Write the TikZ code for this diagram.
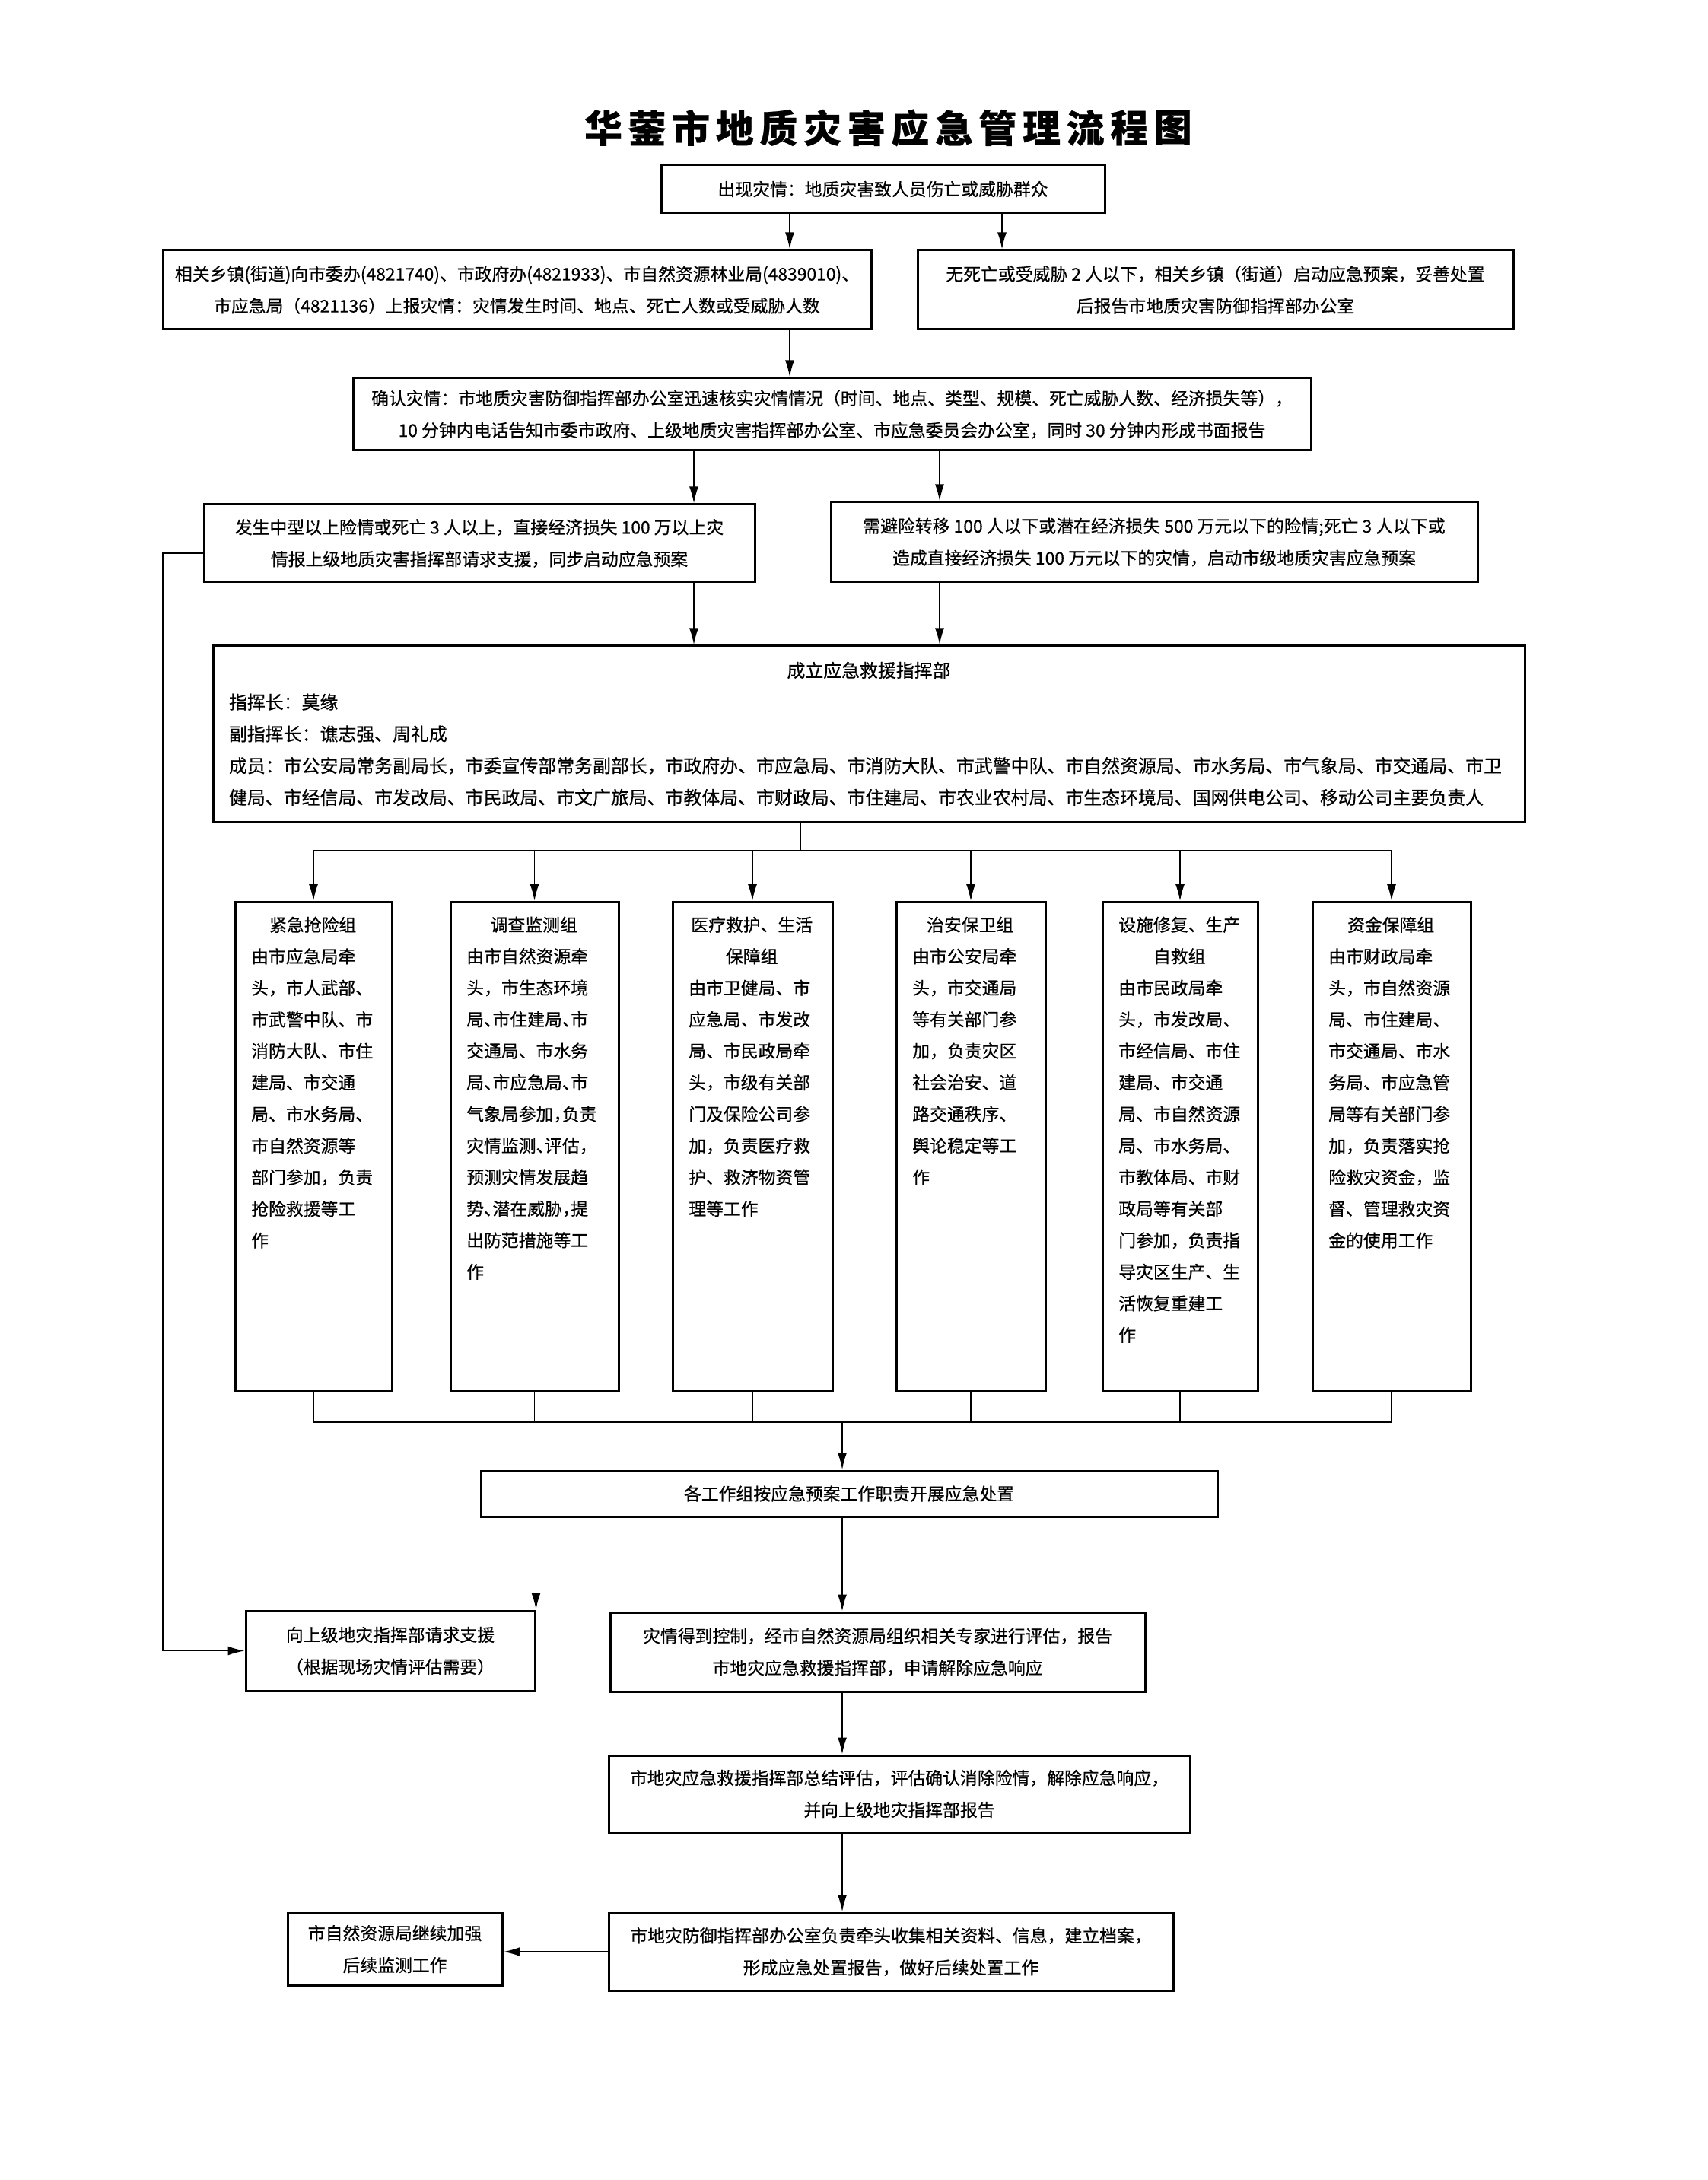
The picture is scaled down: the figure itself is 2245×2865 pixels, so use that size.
\documentclass[tikz,border=0pt]{standalone}
\usepackage{fontspec}
\setmainfont{Noto Sans CJK SC}[FakeBold=0.5]
\usepackage{tikz}
\usetikzlibrary{arrows.meta, calc}
\tikzstyle{box}=[draw, line width=0.3mm, inner sep=0, align=center, font=\fontsize{6.5}{11.95}\selectfont]
\tikzstyle{grp}=[draw, line width=0.3mm, inner sep=0, minimum height=64.3mm]
\tikzstyle{grptext}=[anchor=north west, inner xsep=2.2mm, inner ysep=2mm, align=left, font=\fontsize{6.5}{11.8}\selectfont]
\tikzstyle{titlechar}=[inner sep=0, font=\fontsize{14.2}{15}\selectfont\bfseries]
\tikzstyle{arr}=[line width=0.18mm, -{Latex[length=2.2mm,width=1.2mm]}]
\tikzstyle{conn}=[line width=0.18mm]
\newcommand{\hp}[1]{\makebox[0.5em][l]{#1}}
\newcommand{\ctr}[1]{\makebox[\linewidth]{#1}}
\newcommand{\grpbox}[5]{\node[grp, minimum width=#3mm, anchor=north] (#1) at (#2,1184) {};
\node[grptext, text width=#4mm] (#1t) at (#1.north west) {#5};}

\begin{document}
\begin{tikzpicture}[x=0.1mm, y=-0.1mm]
\useasboundingbox (0,0) rectangle (2245,2865);
\foreach \c [count=\i] in {华,蓥,市,地,质,灾,害,应,急,管,理,流,程,图}
  \node[titlechar] (t\i) at (735.4+57.6*\i,168) {\c};

\node[box, minimum width=58.3mm, minimum height=6.3mm] (top) at (1160.5,248.5) {出现灾情：地质灾害致人员伤亡或威胁群众};
\node[box, minimum width=93.1mm, minimum height=10.4mm] (repL) at (679.5,381) {相关乡镇(街道)向市委办(4821740)、市政府办(4821933)、市自然资源林业局(4839010)、\\市应急局（4821136）上报灾情：灾情发生时间、地点、死亡人数或受威胁人数};
\node[box, minimum width=78.3mm, minimum height=10.4mm] (repR) at (1597.5,381) {无死亡或受威胁 2 人以下，相关乡镇（街道）启动应急预案，妥善处置\\后报告市地质灾害防御指挥部办公室};
\node[box, minimum width=125.9mm, minimum height=9.5mm] (conf) at (1093.5,544.5) {确认灾情：市地质灾害防御指挥部办公室迅速核实灾情情况（时间、地点、类型、规模、死亡威胁人数、经济损失等），\\10 分钟内电话告知市委市政府、上级地质灾害指挥部办公室、市应急委员会办公室，同时 30 分钟内形成书面报告};
\node[box, minimum width=72.4mm, minimum height=10.2mm] (bigL) at (630,714) {发生中型以上险情或死亡 3 人以上，直接经济损失 100 万以上灾\\情报上级地质灾害指挥部请求支援，同步启动应急预案};
\node[box, minimum width=85mm, minimum height=10.5mm] (bigR) at (1517,712.5) {需避险转移 100 人以下或潜在经济损失 500 万元以下的险情;死亡 3 人以下或\\造成直接经济损失 100 万元以下的灾情，启动市级地质灾害应急预案};
\node[box, minimum width=172.4mm, minimum height=23.1mm, text width=168.2mm, align=left, font=\fontsize{6.8}{11.88}\selectfont] (hq) at (1142,964.5) {\ctr{成立应急救援指挥部}\\指挥长：莫缘\\副指挥长：谯志强、周礼成\\成员：市公安局常务副局长，市委宣传部常务副部长，市政府办、市应急局、市消防大队、市武警中队、市自然资源局、市水务局、市气象局、市交通局、市卫\\健局、市经信局、市发改局、市民政局、市文广旅局、市教体局、市财政局、市住建局、市农业农村局、市生态环境局、国网供电公司、移动公司主要负责人};

\grpbox{g1}{412}{20.6}{16.2}{\ctr{紧急抢险组}\\由市应急局牵\\头，市人武部、\\市武警中队、市\\消防大队、市住\\建局、市交通\\局、市水务局、\\市自然资源等\\部门参加，负责\\抢险救援等工\\作}
\grpbox{g2}{702.5}{22.1}{17.7}{\ctr{调查监测组}\\由市自然资源牵\\头，市生态环境\\局\hp{、}市住建局\hp{、}市\\交通局、市水务\\局\hp{、}市应急局\hp{、}市\\气象局参加\hp{，}负责\\灾情监测\hp{、}评估\hp{，}\\预测灾情发展趋\\势\hp{、}潜在威胁\hp{，}提\\出防范措施等工\\作}
\grpbox{g3}{989}{21.0}{16.6}{\ctr{医疗救护、生活}\\\ctr{保障组}\\由市卫健局、市\\应急局、市发改\\局、市民政局牵\\头，市级有关部\\门及保险公司参\\加，负责医疗救\\护、救济物资管\\理等工作}
\grpbox{g4}{1276}{19.6}{15.2}{\ctr{治安保卫组}\\由市公安局牵\\头，市交通局\\等有关部门参\\加，负责灾区\\社会治安、道\\路交通秩序、\\舆论稳定等工\\作}
\grpbox{g5}{1551}{20.4}{16.0}{\ctr{设施修复、生产}\\\ctr{自救组}\\由市民政局牵\\头，市发改局、\\市经信局、市住\\建局、市交通\\局、市自然资源\\局、市水务局、\\市教体局、市财\\政局等有关部\\门参加，负责指\\导灾区生产、生\\活恢复重建工\\作}
\grpbox{g6}{1829}{20.8}{16.4}{\ctr{资金保障组}\\由市财政局牵\\头，市自然资源\\局、市住建局、\\市交通局、市水\\务局、市应急管\\局等有关部门参\\加，负责落实抢\\险救灾资金，监\\督、管理救灾资\\金的使用工作}

\node[box, minimum width=96.8mm, minimum height=6mm] (act) at (1116,1963) {各工作组按应急预案工作职责开展应急处置};
\node[box, minimum width=38mm, minimum height=10.5mm] (ask) at (513,2169.5) {向上级地灾指挥部请求支援\\（根据现场灾情评估需要）};
\node[box, minimum width=70.3mm, minimum height=10.4mm] (ctrl) at (1153.5,2171) {灾情得到控制，经市自然资源局组织相关专家进行评估，报告\\市地灾应急救援指挥部，申请解除应急响应};
\node[box, minimum width=76.4mm, minimum height=10.1mm] (sum) at (1182,2357.5) {市地灾应急救援指挥部总结评估，评估确认消除险情，解除应急响应，\\并向上级地灾指挥部报告};
\node[box, minimum width=74.2mm, minimum height=10.2mm] (arch) at (1171,2565) {市地灾防御指挥部办公室负责牵头收集相关资料、信息，建立档案，\\形成应急处置报告，做好后续处置工作};
\node[box, minimum width=28.2mm, minimum height=9.5mm] (mon) at (519,2561.5) {市自然资源局继续加强\\后续监测工作};

\coordinate (c1) at (1038,0);
\coordinate (c2) at (1317,0);
\coordinate (c3) at (912,0);
\coordinate (c4) at (1235,0);
\coordinate (c5) at (1052,0);
\coordinate (c6) at (1107,0);
\coordinate (lx) at (214,0);
\coordinate (bus1) at (0,1118);
\coordinate (bus2) at (0,1869);

\draw[arr] (top.south -| c1) -- (repL.north -| c1);
\draw[arr] (top.south -| c2) -- (repR.north -| c2);
\draw[arr] (repL.south -| c1) -- (conf.north -| c1);
\draw[arr] (conf.south -| c3) -- (bigL.north -| c3);
\draw[arr] (conf.south -| c4) -- (bigR.north -| c4);
\draw[arr] (bigL.south -| c3) -- (hq.north -| c3);
\draw[arr] (bigR.south -| c4) -- (hq.north -| c4);
\draw[conn] (hq.south -| c5) -- (c5 |- bus1);
\draw[conn] (g1.north |- bus1) -- (g6.north |- bus1);
\foreach \g in {g1,g2,g3,g4,g5,g6} {
  \draw[arr] (\g.north |- bus1) -- (\g.north);
  \draw[conn] (\g.south) -- (\g.south |- bus2);
}
\draw[conn] (g1.south |- bus2) -- (g6.south |- bus2);
\draw[arr] (c6 |- bus2) -- (act.north -| c6);
\draw[arr] (act.south -| ask.north east) -- (ask.north east);
\draw[arr] (act.south -| c6) -- (ctrl.north -| c6);
\draw[arr] (ctrl.south -| c6) -- (sum.north -| c6);
\draw[arr] (sum.south -| c6) -- (arch.north -| c6);
\draw[arr] (arch.west) -- (arch.west -| mon.east);
\draw[arr] ([yshift=-1.3mm]bigL.west) -- ([yshift=-1.3mm]bigL.west -| lx) |- (ask.west);
\end{tikzpicture}
\end{document}
